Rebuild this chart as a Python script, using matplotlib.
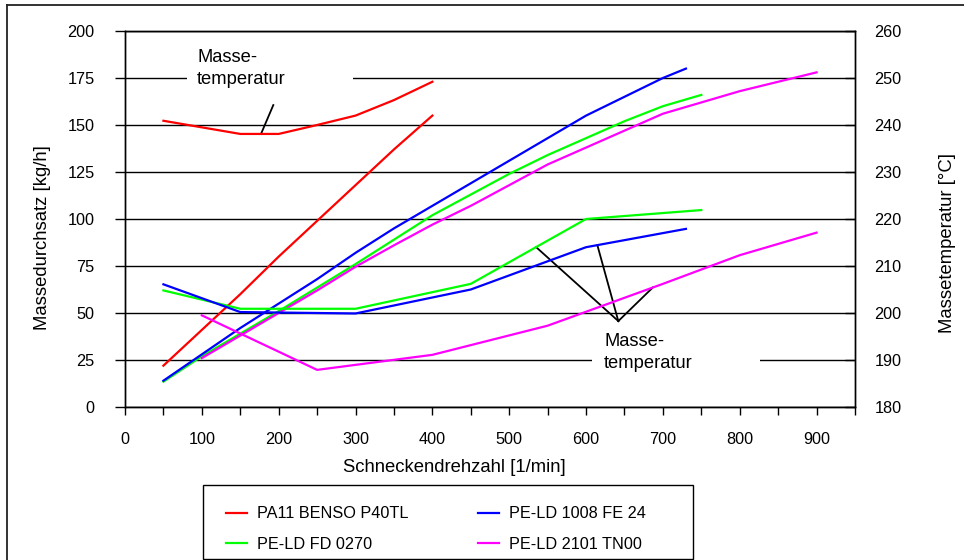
import matplotlib
matplotlib.use("Agg")
import matplotlib.pyplot as plt
import numpy as np
from matplotlib.patches import Rectangle
from matplotlib.lines import Line2D

plt.rcParams['font.family'] = ['Liberation Sans', 'DejaVu Sans']

# ---------------- data ----------------
series_names = ["PA11 BENSO P40TL", "PE-LD FD 0270", "PE-LD 1008 FE 24", "PE-LD 2101 TN00"]
series_colors = ["#ff0000", "#00ff00", "#0000ff", "#ff00ff"]

# throughput [kg/h] (left axis)
red_x = [50, 100, 150, 200, 250, 300, 350, 400]
red_thr = [22, 41, 60, 80, 99, 118, 137, 155]
green_x = [50, 100, 150, 200, 250, 300, 350, 400, 450, 500, 550, 600, 650, 700, 750]
green_thr = [13.5, 27, 39, 51, 63.5, 76, 89, 102, 113, 124, 134, 143, 152, 160, 166]
blue_x = [50, 100, 150, 200, 250, 300, 350, 400, 450, 500, 550, 600, 650, 700, 730]
blue_thr = [14, 28, 42, 55, 68, 82, 95, 107, 119, 131, 143, 155, 165, 175, 180]
magenta_x = [100, 150, 200, 250, 300, 350, 400, 450, 500, 550, 600, 650, 700, 750, 800, 850, 900]
magenta_thr = [26, 38, 50, 62, 74.6, 86, 97, 107, 118, 129, 138, 147, 156, 162, 168, 173, 178]

# melt temperature [°C] (right axis)
red_tx = [50, 150, 200, 250, 300, 350, 400]
red_temp = [240.9, 238.1, 238.1, 240.0, 242.0, 245.3, 249.2]
green_tx = [50, 150, 300, 450, 600, 750]
green_temp = [204.8, 200.9, 200.9, 206.2, 220.0, 221.9]
blue_tx = [50, 150, 300, 450, 600, 730]
blue_temp = [206.1, 200.2, 199.9, 205.0, 214.0, 217.9]
magenta_tx = [100, 250, 400, 550, 700, 800, 900]
magenta_temp = [199.5, 187.9, 191.1, 197.3, 206.2, 212.3, 217.1]

x_ticks = list(range(0, 951, 50))
x_ticklabels = [str(v) if (v % 100 == 0 and v <= 900) else "" for v in x_ticks]
y_left_ticks = list(range(0, 201, 25))
y_right_ticks = list(range(180, 261, 10))

# ---------------- figure ----------------
W, H = 964, 560
fig = plt.figure(figsize=(W / 100, H / 100), dpi=100)


def fx(px):
    return px / W


def fy(py):
    return 1 - py / H


ax = fig.add_axes([fx(125), fy(407), fx(855) - fx(125), fy(31) - fy(407)])
ax2 = ax.twinx()

ax.set_xlim(0, 950)
ax.set_ylim(0, 200)
ax2.set_ylim(180, 260)

ax.set_xticks(x_ticks)
ax.set_xticklabels(x_ticklabels)
ax.set_yticks(y_left_ticks)
ax2.set_yticks(y_right_ticks)

tick_fs = 11.7
ax.tick_params(axis='x', direction='out', length=6, width=1, pad=12, labelsize=tick_fs)
ax.tick_params(axis='y', direction='out', length=7, width=1, pad=15, labelsize=tick_fs)
ax2.tick_params(axis='y', direction='in', length=7, width=1, pad=14, labelsize=tick_fs)

ax.set_axisbelow(True)
ax.yaxis.grid(True, color='black', linewidth=1.0)
for a in (ax, ax2):
    for s in a.spines.values():
        s.set_color('black')
        s.set_linewidth(1.0)

lw = 1.6
thr_data = [(red_x, red_thr), (green_x, green_thr), (blue_x, blue_thr), (magenta_x, magenta_thr)]
temp_data = [(red_tx, red_temp), (green_tx, green_temp), (blue_tx, blue_temp), (magenta_tx, magenta_temp)]
handles = []
for (xs, ys), name, c in zip(thr_data, series_names, series_colors):
    h, = ax.plot(xs, ys, color=c, lw=lw, zorder=3, label=name)
    handles.append(h)
for (xs, ys), c in zip(temp_data, series_colors):
    ax2.plot(xs, ys, color=c, lw=lw, zorder=3)


def t2l(t):
    return (np.asarray(t) - 180.0) * 2.5


# ---------------- annotations ----------------
ann_fs = 13.2
ann_ls = 1.4
# top annotation (PA11)
ax.add_patch(Rectangle((80.7, 162), 296.7 - 80.7, 36, facecolor='white', edgecolor='none', zorder=1.5))
ax.text(93.7, 180.2, "Masse-\ntemperatur", ha='left', va='center', fontsize=ann_fs,
        linespacing=ann_ls, zorder=4)
rx = 177
ax.plot([193, rx], [160.6, t2l(np.interp(rx, red_tx, red_temp))], color='black', lw=1.3, zorder=4)

# bottom annotation (PE-LD)
ax.add_patch(Rectangle((607.4, 10), 826.4 - 607.4, 32, facecolor='white', edgecolor='none', zorder=1.5))
ax.text(623.4, 28.8, "Masse-\ntemperatur", ha='left', va='center', fontsize=ann_fs,
        linespacing=ann_ls, zorder=4)
apex = (642, 45.7)
for tx_, (xs, ys) in ((535, (green_tx, green_temp)), (614.7, (blue_tx, blue_temp)), (686.8, (magenta_tx, magenta_temp))):
    ax.plot([apex[0], tx_], [apex[1], t2l(np.interp(tx_, xs, ys))], color='black', lw=1.3, zorder=4)

# ---------------- labels ----------------
lab_fs = 13.3
fig.text(fx(43), fy(238), "Massedurchsatz [kg/h]", rotation=90, ha='center', va='center', fontsize=lab_fs)
fig.text(fx(947), fy(243), "Massetemperatur [°C]", rotation=90, ha='center', va='center', fontsize=lab_fs)
fig.text(fx(454), fy(468), "Schneckendrehzahl [1/min]", ha='center', va='center', fontsize=lab_fs)

# ---------------- legend ----------------
fig.legend(handles, series_names, ncol=2, frameon=False, loc='center',
           bbox_to_anchor=(fx(436), fy(529)), fontsize=11.7,
           handlelength=1.3, handletextpad=0.6, columnspacing=4.3, labelspacing=0.95)
fig.add_artist(Rectangle((fx(203), fy(559)), fx(693) - fx(203), fy(485) - fy(559),
                         transform=fig.transFigure, fill=False, edgecolor='black', lw=1.0))

# outer frame
fig.add_artist(Line2D([fx(7), fx(7)], [0, fy(5)], transform=fig.transFigure, color='#222222', lw=1.3))
fig.add_artist(Line2D([fx(7), 1], [fy(5), fy(5)], transform=fig.transFigure, color='#222222', lw=1.3))

fig.savefig("out.png", dpi=100)
